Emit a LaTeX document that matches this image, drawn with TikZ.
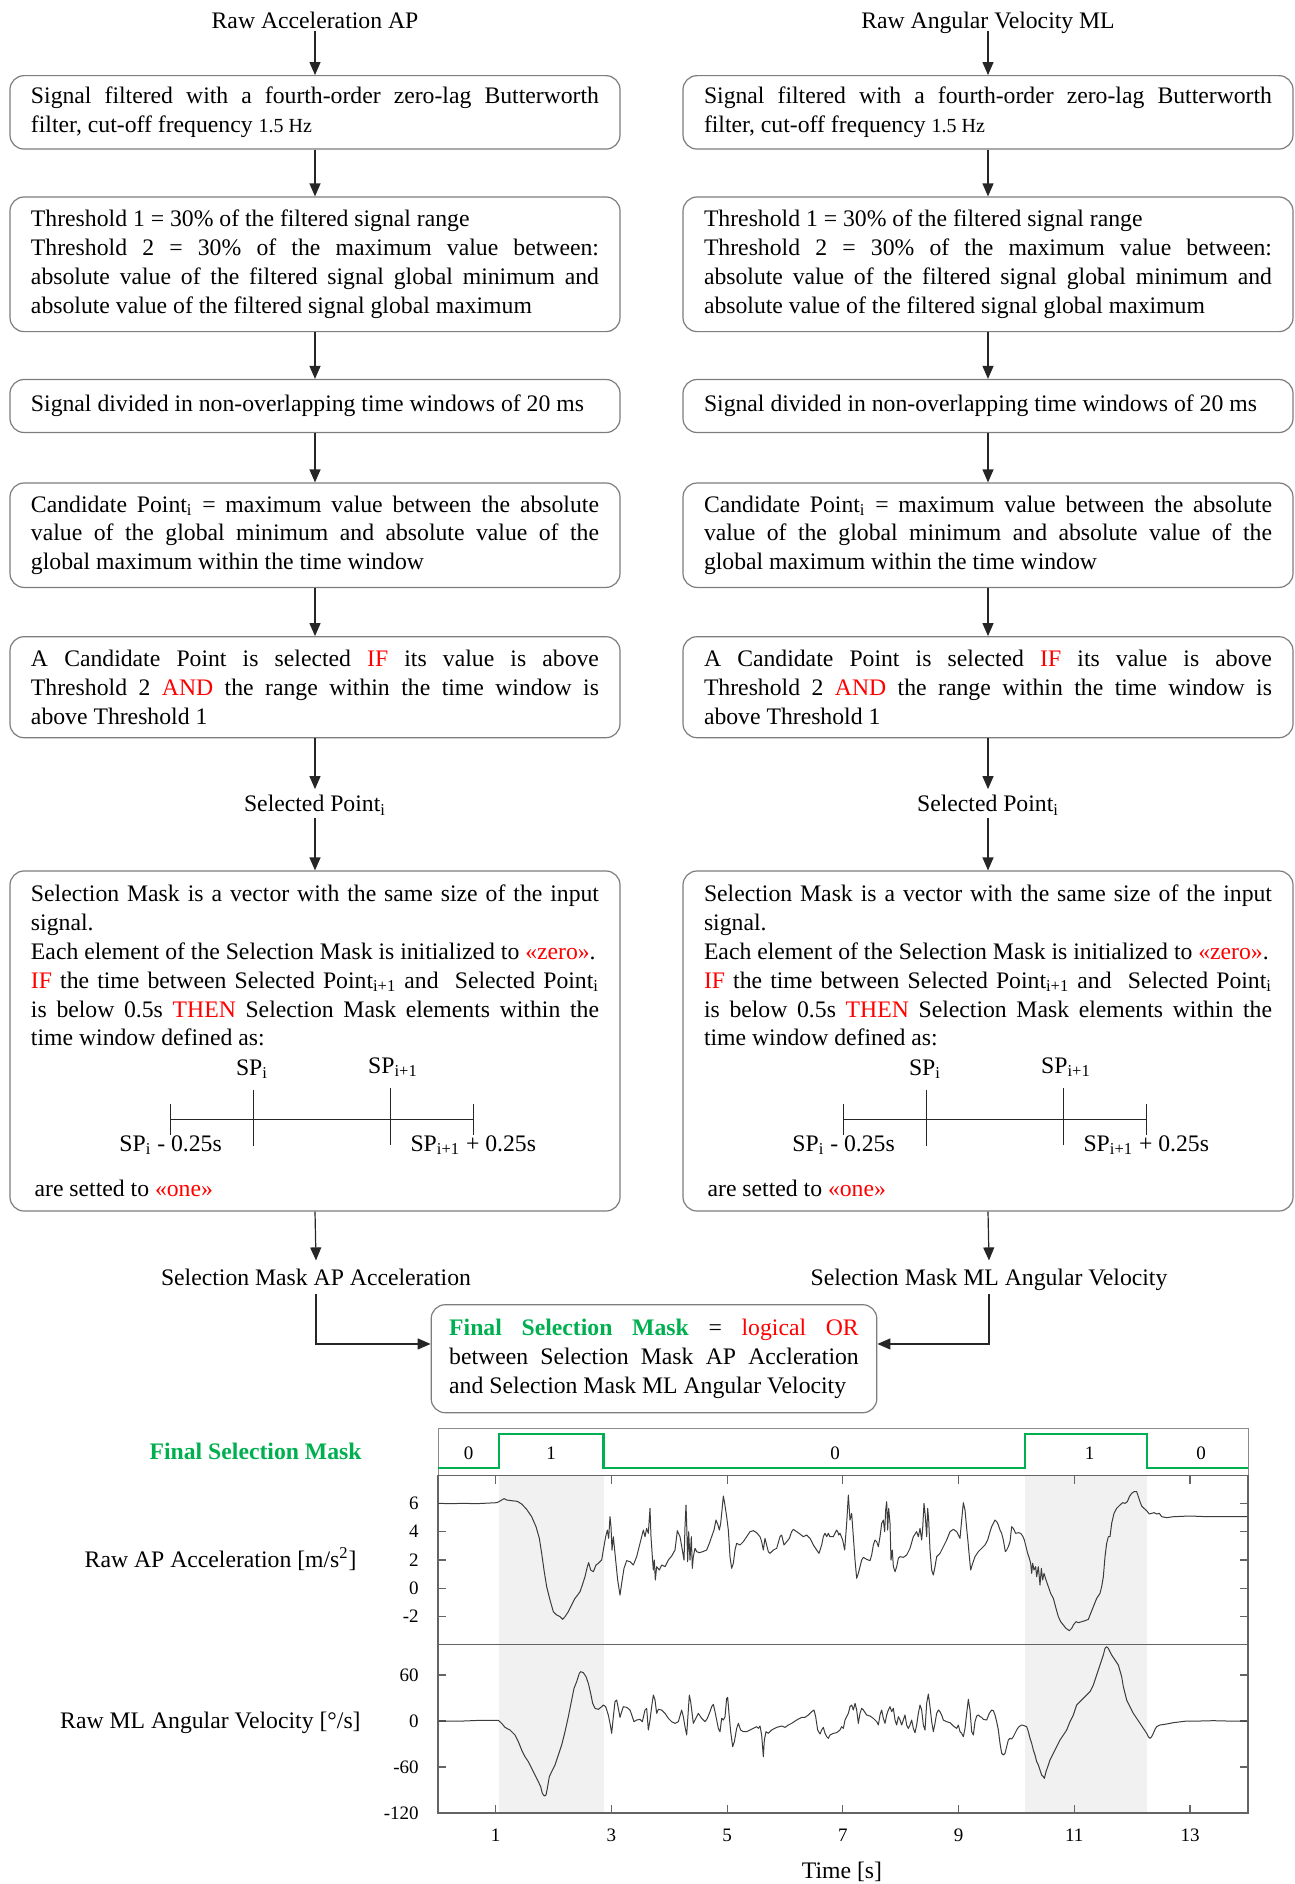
\documentclass[tikz,border=0pt]{standalone}
\usepackage{fontspec}
\setmainfont{Liberation Serif}
\usetikzlibrary{arrows.meta,calc}

\definecolor{maskgreen}{RGB}{0,176,80}
\definecolor{boxgray}{RGB}{125,125,125}
\definecolor{framegray}{RGB}{100,100,100}
\definecolor{wavegray}{RGB}{60,60,60}
\definecolor{shadegray}{RGB}{241,241,241}

\newcommand\hl[1]{\textcolor{red}{#1}}
\newcommand\bodyfont{\fontsize{11.85}{14.4}\selectfont}
\newcommand\tickfont{\fontsize{9.5}{11}\selectfont}

\tikzset{
  stepbox/.style={draw=boxgray, line width=0.6pt, rounded corners=7pt,
    text width=284pt, inner xsep=10.5pt, inner ysep=2pt, align=justify, font=\bodyfont},
  lbl/.style={font=\bodyfont, inner sep=3pt, text height=8.2pt, text depth=0pt},
  plainlbl/.style={font=\bodyfont, inner sep=0pt},
  arr/.style={draw=black!85, line width=0.6pt, -{Triangle[length=6.5pt,width=5.5pt]}},
  spline/.style={draw=black!85, line width=0.75pt},
  frame/.style={draw=framegray, line width=0.9pt},
  thinframe/.style={draw=black!45, line width=0.5pt},
  tick/.style={draw=framegray, line width=0.6pt},
  tickl/.style={font=\tickfont, inner sep=0pt},
  maskline/.style={draw=maskgreen, line width=1.2pt},
  wave/.style={draw=wavegray, line width=0.5pt, line join=round},
}

% one processing column: prefix, x offset, input name, output name
\newcommand\flowcolumn[4]{%
\begin{scope}[shift={(#2,0)}]
  \node[lbl,inner sep=1pt] (#1-t) at (315,20) {#3};
  \node[stepbox,minimum height=36.7pt] (#1-b1) at (315,112.35)
    {Signal filtered with a fourth-order zero-lag Butterworth\linebreak
     filter, cut-off frequency {\fontsize{10}{12}\selectfont 1.5 Hz}};
  \node[stepbox,minimum height=67.3pt] (#1-b2) at (315,264.3)
    {Threshold 1 = 30\% of the filtered signal range\\
     Threshold 2 = 30\% of the maximum value between:\linebreak
     absolute value of the filtered signal global minimum and\linebreak
     absolute value of the filtered signal global maximum};
  \node[stepbox,minimum height=26.5pt] (#1-b3) at (315,406)
    {Signal divided in non-overlapping time windows of 20 ms};
  \node[stepbox,minimum height=52.2pt] (#1-b4) at (315,535.2)
    {Candidate Point\textsubscript{i} = maximum value between the absolute\linebreak
     value of the global minimum and absolute value of the\linebreak
     global maximum within the time window};
  \node[stepbox,minimum height=50.5pt] (#1-b5) at (315,687.2)
    {A Candidate Point is selected \hl{IF} its value is above\linebreak
     Threshold 2 \hl{AND} the range within the time window is\linebreak
     above Threshold 1};
  \node[lbl] (#1-sp) at (315,803.7) {Selected Point\textsubscript{i}};
  \node[stepbox,minimum height=170pt] (#1-b6) at (315,1041)
    {Selection Mask is a vector with the same size of the input\linebreak
     signal.\\
     Each element of the Selection Mask is initialized to \hl{«zero»}.\\
     \hl{IF} the time between Selected Point\textsubscript{i+1} and\ \ Selected Point\textsubscript{i}\linebreak
     is below 0.5s \hl{THEN} Selection Mask elements within the\linebreak
     time window defined as:\\[61pt]
     \hspace*{1.8pt}are setted to \hl{«one»}};
  % time window sketch
  \draw[spline] (170.6,1119.6) -- (473.3,1119.6);
  \draw[spline] (170.6,1104) -- (170.6,1135);
  \draw[spline] (473.3,1104) -- (473.3,1135);
  \draw[spline] (253.5,1089.6) -- (253.5,1146);
  \draw[spline] (390.4,1088) -- (390.4,1145);
  \node[plainlbl] (#1-spa) at (252,1069) {SP\textsubscript{i}};
  \node[plainlbl] (#1-spb) at (393,1067) {SP\textsubscript{i+1}};
  \node[plainlbl] (#1-spc) at (170.6,1145) {SP\textsubscript{i} - 0.25s};
  \node[plainlbl] (#1-spd) at (473.3,1145) {SP\textsubscript{i+1} + 0.25s};
  \node[lbl,inner sep=4pt] (#1-mask) at (316,1277) {#4};
  % connectors
  \draw[arr] (#1-t) -- (#1-b1);
  \draw[arr] (#1-b1) -- (#1-b2);
  \draw[arr] (#1-b2) -- (#1-b3);
  \draw[arr] (#1-b3) -- (#1-b4);
  \draw[arr] (#1-b4) -- (#1-b5);
  \draw[arr] (#1-b5) -- (#1-sp);
  \draw[arr] (#1-sp) -- (#1-b6);
  \draw[arr] (#1-b6.south) -- (#1-mask.north);
\end{scope}}

\begin{document}
\begin{tikzpicture}[x=0.5pt,y=-0.5pt]
\useasboundingbox (0,0) rectangle (1295,1884);

\flowcolumn{L}{0}{Raw Acceleration AP}{Selection Mask AP Acceleration}
\flowcolumn{R}{673}{Raw Angular Velocity ML}{Selection Mask ML Angular Velocity}

% combination of both masks
\node[stepbox,text width=204.8pt,inner xsep=9pt,minimum height=54pt] (final) at (654,1358.7)
  {\textcolor{maskgreen}{\bfseries Final Selection Mask} = \hl{logical OR}\linebreak
   between Selection Mask AP Accleration\linebreak
   and Selection Mask ML Angular Velocity};
\draw[arr] (L-mask.south) |- ($(final.north west)!0.365!(final.south west)$);
\draw[arr] (R-mask.south) |- ($(final.north east)!0.365!(final.south east)$);

% ---------------- signal chart ----------------
\fill[shadegray] (499,1475.5) rectangle (603.5,1813);
\fill[shadegray] (1025,1475.5) rectangle (1147,1813);

\draw[thinframe] (438,1475.5) -- (438,1428) -- (1248,1428) -- (1248,1475.5);
\draw[frame] (438,1475.5) rectangle (1248,1813);
\draw[frame] (438,1644.5) -- (1248,1644.5);

% mask trace
\draw[maskline] (438,1468) -- (499,1468) -- (499,1434) -- (603.5,1434) -- (603.5,1468)
  -- (1025,1468) -- (1025,1434) -- (1147,1434) -- (1147,1468) -- (1248,1468);
\node[tickl] (m1) at (468.5,1453.6) {0};
\node[tickl] (m2) at (551,1453.6) {1};
\node[tickl] (m3) at (835,1453.6) {0};
\node[tickl] (m4) at (1089.6,1453.6) {1};
\node[tickl] (m5) at (1201,1453.6) {0};

% time ticks
\foreach \x/\t in {495.7/1,611.4/3,727.1/5,842.8/7,958.5/9,1074.3/11,1190.0/13}{
  \draw[tick] (\x,1475.5) -- ++(0,8);
  \draw[tick] (\x,1813) -- ++(0,-8);
  \node[tickl] (xt\t) at (\x,1835.6) {\t};
}
% acceleration axis
\foreach \y/\v in {1503.3/6,1531.6/4,1560/2,1588.3/0,1616.6/-2}{
  \draw[tick] (438,\y) -- ++(8,0);
  \draw[tick] (1248,\y) -- ++(-8,0);
  \node[tickl,anchor=east] (ya\v) at (419,\y) {\v};
}
% angular velocity axis
\foreach \y/\v in {1675/60,1721/0,1767/-60}{
  \draw[tick] (438,\y) -- ++(8,0);
  \draw[tick] (1248,\y) -- ++(-8,0);
  \node[tickl,anchor=east] (yg\v) at (419,\y) {\v};
}
\node[tickl,anchor=east] (yg-120) at (419,1813) {-120};

\node[plainlbl,anchor=east,font=\bodyfont\bfseries,text=maskgreen] (fsm) at (362,1451) {Final Selection Mask};
\node[plainlbl,anchor=east] (apl) at (357,1559) {Raw AP Acceleration [m/s\textsuperscript{2}]};
\node[plainlbl,anchor=east] (mll) at (361,1722.6) {Raw ML Angular Velocity [°/s]};
\node[plainlbl] (tlab) at (842,1871.6) {Time [s]};

% AP acceleration trace, first half
\begin{scope}[shift={(430,1470)},scale=1/3]
\draw[wave] plot coordinates {(25,100) (60,101) (100,100) (140,101) (180,99) (200,98) (207,95) (215,90) (222,86) (230,90) (245,92) (262,94) (275,102) (290,118) (305,140) (318,170) (328,205) (335,250) (342,300) (350,350) (360,390) (370,425) (380,435) (390,440) (398,448) (405,440) (415,425) (425,405) (435,385) (443,375) (450,365) (457,345) (465,320) (472,290) (476,278) (482,300) (490,305) (498,285) (505,280) (515,270) (520,240) (527,200) (532,180) (536,205) (540,140) (543,170) (546,240) (550,200) (556,260) (563,330) (570,375) (575,340) (582,295) (590,272) (600,275) (610,285) (620,260) (630,220) (640,180) (645,200) (650,175) (655,190) (660,115) (663,200) (667,260) (670,300) (673,270) (676,330) (680,290) (688,300) (695,285) (705,290) (715,270) (725,258) (735,240) (742,182) (750,200) (757,240) (762,270) (765,170) (768,105) (770,160) (773,275) (776,185) (780,270) (784,200) (787,295) (790,260) (795,235) (800,245) (808,248) (818,245) (830,240) (838,220) (845,200) (852,180) (858,150) (864,165) (868,180) (872,160) (876,120) (880,78) (884,100) (890,140) (895,180) (900,260) (905,295) (910,280) (915,240) (920,220) (930,225) (940,215) (950,200) (960,185) (970,182) (980,188) (990,200) (995,215) (1000,240) (1005,205) (1010,225) (1015,245) (1020,250) (1030,240) (1040,235) (1050,200) (1055,195) (1062,225) (1070,215) (1078,205) (1085,185) (1090,178) (1100,185) (1110,192) (1120,200) (1130,195) (1140,205) (1150,225) (1160,240) (1167,250) (1175,225) (1180,200) (1185,190) (1190,200) (1195,190) (1200,200) (1210,200) (1215,190) (1220,180) (1228,195)};
\end{scope}
% AP acceleration trace, second half
\begin{scope}[shift={(840,1470)},scale=1/3]
\draw[wave] plot coordinates {(-6,195) (0,190) (8,210) (14,240) (20,160) (25,75) (30,150) (35,130) (40,200) (45,270) (50,325) (55,310) (60,290) (65,270) (70,262) (80,268) (90,272) (95,255) (100,225) (105,210) (110,215) (115,230) (120,200) (125,160) (130,150) (134,185) (137,120) (140,95) (143,180) (146,115) (150,160) (153,270) (157,240) (160,290) (165,305) (170,290) (175,265) (180,260) (190,262) (200,255) (210,235) (220,200) (230,185) (235,200) (240,175) (245,210) (248,175) (252,100) (256,140) (260,200) (263,115) (266,150) (270,240) (275,300) (280,315) (285,290) (290,260) (300,250) (310,230) (320,210) (330,185) (340,178) (350,185) (355,195) (360,205) (365,150) (370,98) (375,120) (380,175) (384,215) (388,260) (392,300) (398,280) (405,260) (415,245) (425,235) (435,225) (443,210) (450,185) (455,170) (460,160) (465,150) (470,155) (475,165) (480,180) (485,190) (490,210) (496,245) (500,240) (505,230) (510,215) (515,170) (520,175) (527,190) (535,188) (542,190) (548,198) (553,210) (558,230) (563,250) (568,265) (572,280) (575,310) (578,280) (582,300) (587,290) (590,320) (595,290) (600,345) (604,295) (608,330) (612,310) (618,330) (625,350) (632,370) (640,385) (648,415) (655,440) (662,455) (670,465) (678,475) (688,482) (695,475) (700,465) (708,455) (715,458) (725,455) (735,452) (745,448) (752,430) (760,410) (770,385) (780,370) (785,350) (790,320) (795,260) (800,220) (805,200) (810,200) (815,160) (822,130) (830,115) (840,105) (848,98) (855,100) (862,95) (868,80) (875,70) (882,65) (890,65) (895,80) (900,95) (905,108) (912,115) (920,122) (928,132) (935,130) (942,128) (950,132) (958,130) (965,140) (980,143) (1000,140) (1050,138) (1100,140) (1150,140) (1222,140)};
\end{scope}
% ML angular velocity trace, first half
\begin{scope}[shift={(430,1640)},scale=1/3]
\draw[wave] plot coordinates {(25,243) (100,243) (150,241) (205,241) (215,250) (225,262) (240,270) (255,285) (265,305) (275,330) (285,350) (295,365) (305,385) (315,405) (325,425) (332,440) (337,460) (343,468) (348,465) (352,445) (358,410) (365,395) (375,375) (385,345) (395,315) (405,275) (415,230) (425,180) (432,145) (440,125) (448,100) (452,95) (460,98) (468,110) (475,130) (482,160) (488,190) (495,205) (505,208) (515,200) (520,195) (527,200) (535,225) (541,255) (545,280) (550,230) (555,185) (560,180) (565,205) (570,232) (575,215) (580,200) (590,202) (600,210) (607,230) (612,245) (620,240) (630,238) (637,245) (645,210) (650,205) (655,270) (660,240) (665,200) (670,165) (675,180) (680,220) (685,208) (695,210) (705,220) (715,235) (725,245) (735,250) (745,245) (755,210) (760,230) (765,260) (770,285) (775,210) (778,165) (782,185) (790,250) (795,240) (800,230) (805,220) (815,235) (825,245) (832,235) (840,215) (845,200) (850,193) (855,215) (860,240) (865,265) (870,275) (875,235) (880,240) (885,230) (890,175) (893,172) (897,220) (902,275) (908,320) (913,305) (920,265) (925,250) (932,270) (940,275) (950,275) (960,270) (970,265) (980,260) (985,265) (990,258) (995,285) (1000,350) (1003,300) (1008,275) (1015,280) (1025,270) (1040,262) (1055,258) (1065,262) (1075,255) (1085,250) (1100,240) (1115,232) (1125,232) (1135,225) (1145,215) (1152,210) (1157,230) (1163,270) (1170,282) (1175,270) (1180,262) (1185,280) (1190,290) (1195,295) (1200,285) (1210,280) (1220,278) (1230,270)};
\end{scope}
% ML angular velocity trace, second half
\begin{scope}[shift={(840,1640)},scale=1/3]
\draw[wave] plot coordinates {(0,270) (5,260) (10,265) (15,240) (20,230) (25,220) (30,200) (35,195) (40,210) (45,190) (50,210) (55,250) (60,220) (65,205) (70,210) (80,225) (90,228) (100,235) (110,245) (115,255) (120,225) (125,210) (130,235) (135,250) (140,225) (145,210) (150,200) (155,215) (160,205) (165,240) (170,255) (175,230) (180,240) (185,255) (190,240) (195,225) (200,255) (205,265) (210,255) (215,240) (220,265) (225,278) (230,255) (235,220) (240,195) (245,210) (250,255) (255,270) (260,190) (265,162) (270,200) (275,245) (280,275) (285,250) (290,220) (295,210) (300,215) (305,225) (310,240) (320,245) (330,248) (340,258) (350,265) (355,255) (360,275) (365,280) (370,290) (375,265) (380,220) (385,178) (390,210) (395,275) (400,285) (405,245) (410,228) (415,225) (420,230) (425,232) (430,238) (440,240) (448,220) (455,210) (460,212) (465,225) (470,245) (475,270) (480,310) (485,340) (490,345) (495,340) (500,320) (505,300) (510,295) (515,297) (520,290) (525,280) (530,270) (535,262) (540,258) (545,255) (550,256) (560,260) (565,275) (570,295) (575,310) (580,330) (585,345) (590,365) (595,375) (600,390) (605,405) (610,410) (613,415) (618,395) (625,375) (630,360) (640,340) (650,320) (660,300) (670,285) (680,270) (690,245) (700,225) (710,195) (720,185) (730,175) (740,165) (750,155) (760,135) (770,105) (780,75) (790,45) (795,25) (800,20) (805,25) (810,35) (815,45) (825,60) (835,75) (845,110) (850,140) (860,180) (870,200) (880,220) (890,235) (900,250) (910,265) (920,280) (925,290) (930,295) (935,290) (940,280) (945,268) (950,260) (960,255) (980,252) (1000,248) (1040,243) (1080,243) (1120,242) (1160,243) (1222,243)};
\end{scope}

\end{tikzpicture}
\end{document}
